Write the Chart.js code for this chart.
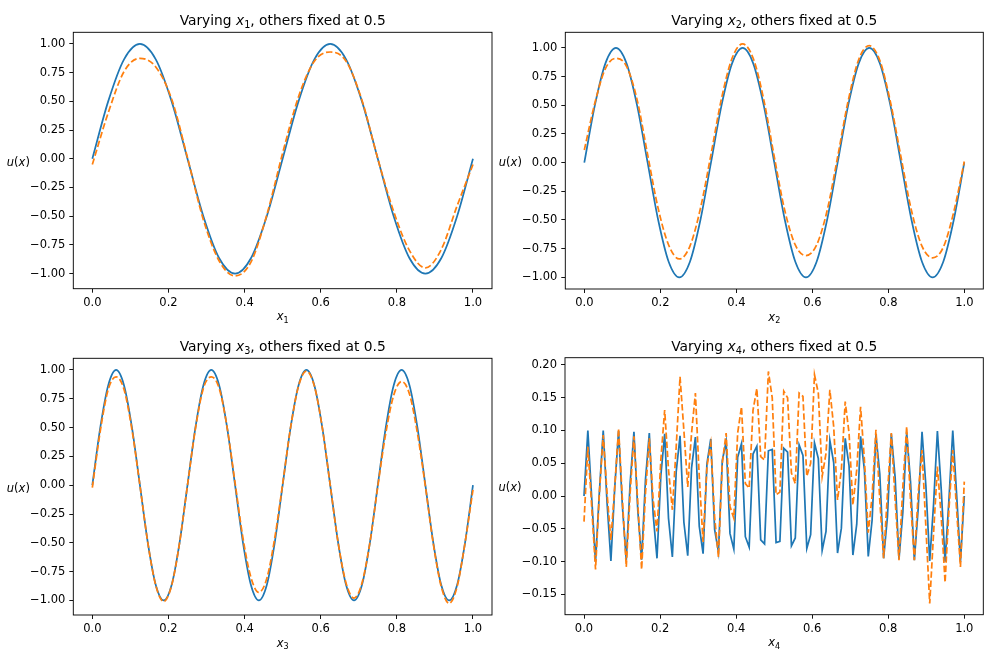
<!DOCTYPE html>
<html>
<head>
<meta charset="utf-8">
<script src="https://cdn.jsdelivr.net/npm/chart.js@4.4.1/dist/chart.umd.min.js"></script>
<style>
  html, body { margin: 0; background: #fff; }
  #fig { position: relative; width: 996px; height: 664px; background: #fff; }
  #fig canvas { position: absolute; }
</style>
</head>
<body>
<div id="fig">
  <canvas id="c1" width="498" height="332" style="left:0;top:0"></canvas>
  <canvas id="c2" width="498" height="332" style="left:498px;top:0"></canvas>
  <canvas id="c3" width="498" height="332" style="left:0;top:332px"></canvas>
  <canvas id="c4" width="498" height="332" style="left:498px;top:332px"></canvas>
</div>
<script>
// ── Data ──────────────────────────────────────────────────────────────────────
// tick labels
const xTicks = [0, 0.2, 0.4, 0.6, 0.8, 1.0];
const yTicksUnit = [-1, -0.75, -0.5, -0.25, 0, 0.25, 0.5, 0.75, 1];
const yTicks4 = [-0.15, -0.10, -0.05, 0, 0.05, 0.10, 0.15, 0.20];

// panel 1: varying x1 (25 samples, evenly spaced on [0, 1])
const true1 = [0, 0.5, 0.866, 1, 0.866, 0.5, 0, -0.5, -0.866, -1, -0.866, -0.5,
               0, 0.5, 0.866, 1, 0.866, 0.5, 0, -0.5, -0.866, -1, -0.866, -0.5, 0];
const pred1 = [-0.05, 0.40, 0.76, 0.875, 0.80, 0.52, 0.01, -0.53, -0.89, -1.02, -0.90, -0.49,
               0.05, 0.54, 0.85, 0.93, 0.85, 0.51, 0.0, -0.46, -0.80, -0.95, -0.79, -0.41, -0.05];

// panel 2: varying x2 (37 samples)
const true2 = [0, 0.5, 0.866, 1, 0.866, 0.5, 0, -0.5, -0.866, -1, -0.866, -0.5,
               0, 0.5, 0.866, 1, 0.866, 0.5, 0, -0.5, -0.866, -1, -0.866, -0.5,
               0, 0.5, 0.866, 1, 0.866, 0.5, 0, -0.5, -0.866, -1, -0.866, -0.5, 0];
const pred2 = [0.11, 0.52, 0.82, 0.91, 0.84, 0.55, 0.07, -0.40, -0.72, -0.84, -0.73, -0.40,
               0.07, 0.56, 0.91, 1.035, 0.91, 0.55, 0.05, -0.42, -0.72, -0.81, -0.72, -0.42,
               0.05, 0.54, 0.90, 1.02, 0.89, 0.53, 0.05, -0.42, -0.73, -0.83, -0.74, -0.43, 0.01];

// panel 3: varying x3 (49 samples)
const true3 = [0, 0.5, 0.866, 1, 0.866, 0.5, 0, -0.5, -0.866, -1, -0.866, -0.5,
               0, 0.5, 0.866, 1, 0.866, 0.5, 0, -0.5, -0.866, -1, -0.866, -0.5,
               0, 0.5, 0.866, 1, 0.866, 0.5, 0, -0.5, -0.866, -1, -0.866, -0.5,
               0, 0.5, 0.866, 1, 0.866, 0.5, 0, -0.5, -0.866, -1, -0.866, -0.5, 0];
const pred3 = [-0.02, 0.47, 0.83, 0.94, 0.83, 0.48, 0.0, -0.50, -0.87, -1.01, -0.87, -0.50,
               0.0, 0.49, 0.84, 0.94, 0.84, 0.50, 0.02, -0.46, -0.80, -0.93, -0.81, -0.46,
               0.01, 0.50, 0.86, 0.99, 0.86, 0.50, 0.0, -0.50, -0.85, -0.98, -0.85, -0.50,
               -0.01, 0.45, 0.78, 0.90, 0.79, 0.45, -0.01, -0.51, -0.88, -1.025, -0.88, -0.50, -0.04];

// panel 4: varying x4 (100 samples)
const true4 = [
  0.000, 0.100, -0.003, -0.100, 0.006, 0.100, -0.010, -0.099, 0.013, 0.099,
  -0.016, -0.098, 0.019, 0.098, -0.022, -0.097, 0.025, 0.096, -0.028, -0.095,
  0.031, 0.095, -0.034, -0.093, 0.037, 0.092, -0.040, -0.091, 0.043, 0.090,
  -0.046, -0.088, 0.049, 0.087, -0.051, -0.085, 0.054, 0.083, -0.057, -0.081,
  0.059, 0.080, -0.062, -0.078, 0.064, 0.076, -0.067, -0.073, 0.069, 0.071,
  -0.071, -0.069, 0.073, 0.067, -0.076, -0.064, 0.078, 0.062, -0.080, -0.059,
  0.081, 0.057, -0.083, -0.054, 0.085, 0.051, -0.087, -0.049, 0.088, 0.046,
  -0.090, -0.043, 0.091, 0.040, -0.092, -0.037, 0.093, 0.034, -0.095, -0.031,
  0.095, 0.028, -0.096, -0.025, 0.097, 0.022, -0.098, -0.019, 0.098, 0.016,
  -0.099, -0.013, 0.099, 0.010, -0.100, -0.006, 0.100, 0.003, -0.100, 0.000
];
const pred4 = [
  -0.039, 0.075, -0.016, -0.112, 0.004, 0.093, 0.004, -0.067, 0.014, 0.103,
  -0.006, -0.108, 0.004, 0.091, -0.011, -0.112, 0.004, 0.088, -0.006, -0.054,
  0.055, 0.131, 0.040, -0.021, 0.075, 0.182, 0.100, 0.014, 0.096, 0.157,
  0.030, -0.070, 0.045, 0.080, -0.032, -0.093, 0.050, 0.096, -0.016, -0.034,
  0.096, 0.136, 0.019, 0.012, 0.131, 0.164, 0.060, 0.055, 0.190, 0.150,
  0.002, 0.006, 0.160, 0.150, 0.035, 0.019, 0.157, 0.152, 0.030, 0.050,
  0.185, 0.157, 0.030, 0.065, 0.162, 0.106, -0.006, 0.040, 0.144, 0.096,
  -0.014, 0.040, 0.136, 0.055, -0.056, 0.000, 0.101, -0.006, -0.095, 0.004,
  0.096, -0.006, -0.098, 0.014, 0.106, -0.006, -0.098, 0.004, 0.070, -0.047,
  -0.164, -0.057, 0.045, -0.032, -0.132, -0.021, 0.070, -0.021, -0.108, 0.022
];

// ── Style ─────────────────────────────────────────────────────────────────────
const BLUE = '#1f77b4', ORANGE = '#ff7f0e';
const FONT = '"DejaVu Sans", sans-serif';
const LW = 1.73;           // 1.5pt @ 83dpi
const DASH = [6.4, 2.77];  // matplotlib '--'

const $ = id => document.getElementById(id);
const grid = n => Array.from({ length: n }, (_, i) => i / (n - 1));
const pts = ys => { const xs = grid(ys.length); return ys.map((y, i) => ({ x: xs[i], y })); };
const fmtTick = (v, d) => v.toFixed(d).replace('-', '\u2212');

// draw a mathtext-ish label: segments of [text, style] where style is '', 'i' or 'sub'
function drawRich(ctx, segs, x, y, size, align) {
    const parts = segs.map(([t, s]) => {
        const fs = s === 'sub' ? size * 0.7 : size;
        const font = `${s === 'i' ? 'italic ' : ''}${fs}px ${FONT}`;
        ctx.font = font;
        return { t, font, w: ctx.measureText(t).width, dy: s === 'sub' ? size * 0.2 : 0 };
    });
    const total = parts.reduce((a, p) => a + p.w, 0);
    let cx = align === 'center' ? x - total / 2 : align === 'right' ? x - total : x;
    ctx.textAlign = 'left';
    ctx.textBaseline = 'alphabetic';
    for (const p of parts) {
        ctx.font = p.font;
        ctx.fillText(p.t, cx, y + p.dy);
        cx += p.w;
    }
}

// frame on all four sides + title + axis labels
const mplDecor = {
    id: 'mplDecor',
    afterDraw(chart, args, o) {
        const { ctx, chartArea: a } = chart;
        ctx.save();
        ctx.strokeStyle = '#000';
        ctx.lineWidth = 0.92;
        ctx.strokeRect(a.left, a.top, a.right - a.left, a.bottom - a.top);
        ctx.fillStyle = '#000';
        const cx = (a.left + a.right) / 2;
        drawRich(ctx, o.title, cx, a.top - 6.9, 13.8, 'center');
        drawRich(ctx, o.xlabel, cx, a.bottom + 31.5, 11.5, 'center');
        drawRich(ctx, [['u', 'i'], ['(', ''], ['x', 'i'], [')', '']], a.left - 43.4, (a.top + a.bottom) / 2 + 5, 11.5, 'right');
        ctx.restore();
    }
};

// ── Panels ────────────────────────────────────────────────────────────────────
function makePanel(id, k, truth, pred, yMin, yMax, yTicks, pad, smooth) {
    const line = (data, color, dash) => ({
        data: pts(data), borderColor: color, borderWidth: LW, borderDash: dash,
        pointRadius: 0, tension: 0, cubicInterpolationMode: smooth ? 'monotone' : 'default'
    });
    const axisStyle = {
        grid: { drawOnChartArea: false, drawTicks: true, tickLength: 4, color: '#000', lineWidth: 0.92 },
        border: { display: false }
    };
    return new Chart($(id), {
        type: 'line',
        data: { datasets: [line(pred, ORANGE, DASH), line(truth, BLUE, [])] },
        options: {
            responsive: false, animation: false, devicePixelRatio: 1,
            layout: { padding: pad },
            plugins: {
                legend: { display: false }, tooltip: { enabled: false },
                mplDecor: {
                    title: [['Varying ', ''], ['x', 'i'], [String(k), 'sub'], [', others fixed at 0.5', '']],
                    xlabel: [['x', 'i'], [String(k), 'sub']]
                }
            },
            scales: {
                x: {
                    type: 'linear', min: -0.05, max: 1.05, ...axisStyle,
                    afterBuildTicks: s => { s.ticks = xTicks.map(v => ({ value: v })); },
                    afterFit: s => { s.height = 20; },
                    ticks: { color: '#000', font: { family: FONT, size: 11.5 }, padding: 3,
                             autoSkip: false, maxRotation: 0, callback: v => fmtTick(v, 1) }
                },
                y: {
                    type: 'linear', min: yMin, max: yMax, ...axisStyle,
                    afterBuildTicks: s => { s.ticks = yTicks.map(v => ({ value: v })); },
                    afterFit: s => { s.width = 60; },
                    ticks: { color: '#000', font: { family: FONT, size: 11.5 }, padding: 4,
                             autoSkip: false, callback: v => fmtTick(v, 2) }
                }
            }
        },
        plugins: [mplDecor]
    });
}

makePanel('c1', 1, true1, pred1, -1.1315, 1.1015, yTicksUnit,
          { left: 13.3, top: 32.3, right: 6, bottom: 23.3 }, true);
makePanel('c2', 2, true2, pred2, -1.1018, 1.1368, yTicksUnit,
          { left: 7.3, top: 32.3, right: 12.7, bottom: 23 }, true);
makePanel('c3', 3, true3, pred3, -1.1263, 1.1013, yTicksUnit,
          { left: 13.3, top: 26.3, right: 6, bottom: 29 }, true);
makePanel('c4', 4, true4, pred4, -0.181, 0.211, yTicks4,
          { left: 7, top: 25.7, right: 12.7, bottom: 29.3 }, false);
</script>
</body>
</html>
